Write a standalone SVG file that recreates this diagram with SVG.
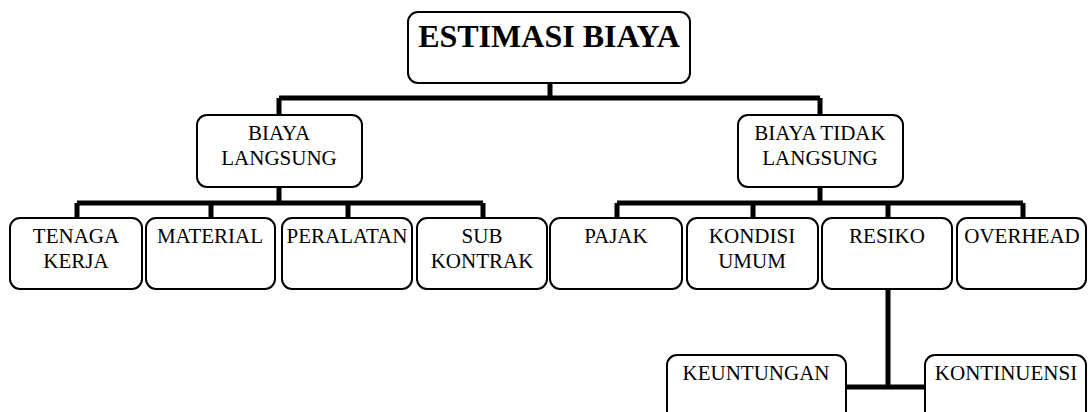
<svg xmlns="http://www.w3.org/2000/svg" width="1088" height="412" viewBox="0 0 1088 412">
<style>
.box{fill:#fff;stroke:#000;stroke-width:2}
.t{font-family:"Liberation Serif","Times New Roman",serif;font-size:21px;fill:#000;text-anchor:middle}
.title{font-family:"Liberation Serif","Times New Roman",serif;font-size:32px;font-weight:bold;fill:#000;text-anchor:middle}
.c{fill:none;stroke:#000;stroke-width:5}
</style>
<rect width="1088" height="412" fill="#fff"/>
<g id="connectors">
<path class="c" d="M550 83V98M279 98H820M279 98V115M820 98V115"/>
<path class="c" d="M279 187V203M77 203H483M77 203V218M211 203V218M348 203V218M483 203V218"/>
<path class="c" d="M820 187V203M617 203H1023M617 203V218M753 203V218M888 203V218M1023 203V218"/>
<path class="c" d="M888 289V387M846 387H925"/>
</g>
<g id="estimasi"><rect class="box" x="408" y="12" width="282" height="71" rx="10"/><text class="title" x="549" y="47">ESTIMASI BIAYA</text></g>
<g id="langsung"><rect class="box" x="197" y="115" width="165" height="72" rx="10"/><text class="t" x="279" y="140">BIAYA</text><text class="t" x="279" y="165">LANGSUNG</text></g>
<g id="tidak-langsung"><rect class="box" x="738" y="115" width="165" height="72" rx="10"/><text class="t" x="820" y="140">BIAYA TIDAK</text><text class="t" x="820" y="165">LANGSUNG</text></g>
<g id="tenaga"><rect class="box" x="10" y="218" width="132" height="71" rx="10"/><text class="t" x="76" y="243">TENAGA</text><text class="t" x="76" y="268">KERJA</text></g>
<g id="material"><rect class="box" x="146" y="218" width="129" height="71" rx="10"/><text class="t" x="210" y="243">MATERIAL</text></g>
<g id="peralatan"><rect class="box" x="282" y="218" width="130" height="71" rx="10"/><text class="t" x="347" y="243">PERALATAN</text></g>
<g id="subkontrak"><rect class="box" x="417" y="218" width="130" height="71" rx="10"/><text class="t" x="482" y="243">SUB</text><text class="t" x="482" y="268">KONTRAK</text></g>
<g id="pajak"><rect class="box" x="550" y="218" width="132" height="71" rx="10"/><text class="t" x="616" y="243">PAJAK</text></g>
<g id="kondisi"><rect class="box" x="687" y="218" width="131" height="71" rx="10"/><text class="t" x="752" y="243">KONDISI</text><text class="t" x="752" y="268">UMUM</text></g>
<g id="resiko"><rect class="box" x="822" y="218" width="130" height="71" rx="10"/><text class="t" x="887" y="243">RESIKO</text></g>
<g id="overhead"><rect class="box" x="957" y="218" width="129" height="71" rx="10"/><text class="t" x="1022" y="243">OVERHEAD</text></g>
<g id="keuntungan"><rect class="box" x="667" y="355" width="179" height="71" rx="10"/><text class="t" x="756" y="380">KEUNTUNGAN</text></g>
<g id="kontinuensi"><rect class="box" x="925" y="355" width="161" height="71" rx="10"/><text class="t" x="1006" y="380">KONTINUENSI</text></g>
</svg>
